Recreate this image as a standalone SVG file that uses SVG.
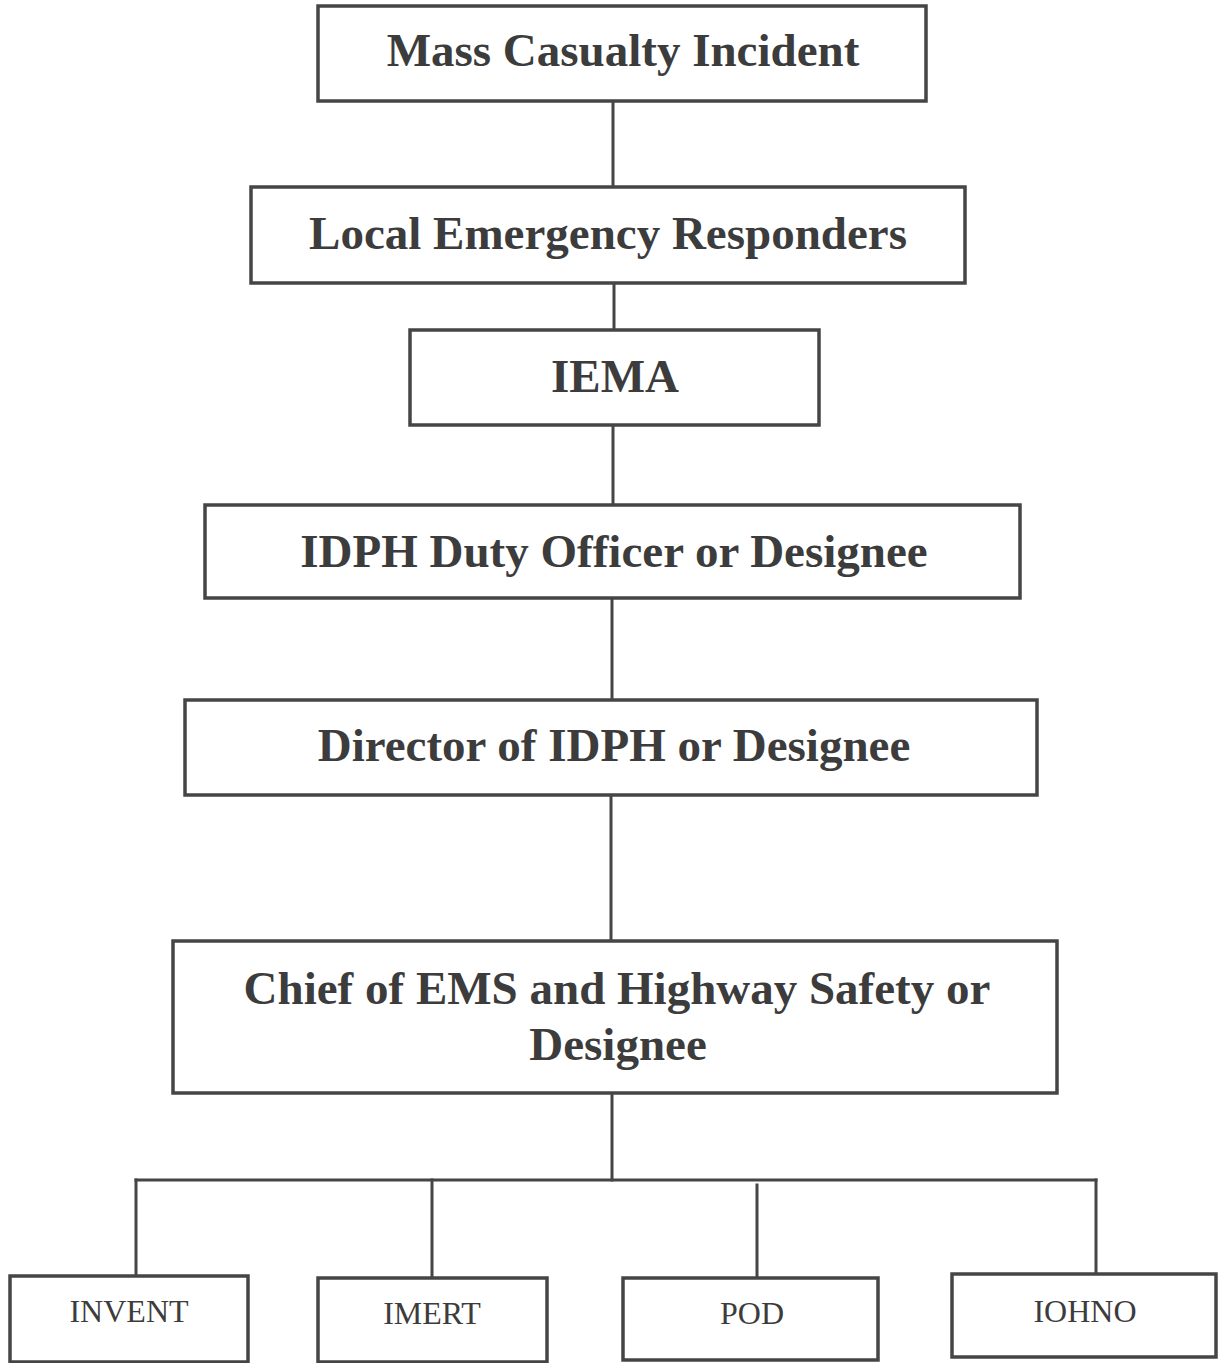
<svg xmlns="http://www.w3.org/2000/svg" width="1218" height="1363" viewBox="0 0 1218 1363">
<style>
.box{fill:#fff;stroke:#454545;stroke-width:3.5}
.conn line{stroke:#454545;stroke-width:3;stroke-linecap:square}
.t{font-family:"Liberation Serif","Times New Roman",serif;font-weight:bold;font-size:47px;fill:#3c3c3c;text-anchor:middle}
.s{font-family:"Liberation Serif","Times New Roman",serif;font-size:32px;fill:#3c3c3c;text-anchor:middle}
</style>
<rect width="1218" height="1363" fill="#fff"/>
<g id="connectors" class="conn">
<line x1="613" y1="101" x2="613" y2="187"/>
<line x1="614" y1="283" x2="614" y2="330"/>
<line x1="613" y1="425" x2="613" y2="505"/>
<line x1="612" y1="598" x2="612" y2="700"/>
<line x1="611" y1="795" x2="611" y2="941"/>
<line x1="612" y1="1093" x2="612" y2="1180"/>
<line x1="136" y1="1180" x2="1096" y2="1180"/>
<line x1="136" y1="1180" x2="136" y2="1276"/>
<line x1="432" y1="1180" x2="432" y2="1278"/>
<line x1="757" y1="1185" x2="757" y2="1278"/>
<line x1="1096" y1="1180" x2="1096" y2="1274"/>
</g>
<g id="n1"><rect class="box" x="318" y="6" width="608" height="95"/><text class="t" x="623" y="66">Mass Casualty Incident</text></g>
<g id="n2"><rect class="box" x="251" y="187" width="714" height="96"/><text class="t" x="608" y="249">Local Emergency Responders</text></g>
<g id="n3"><rect class="box" x="410" y="330" width="409" height="95"/><text class="t" x="615" y="392">IEMA</text></g>
<g id="n4"><rect class="box" x="205" y="505" width="815" height="93"/><text class="t" x="614" y="567">IDPH Duty Officer or Designee</text></g>
<g id="n5"><rect class="box" x="185" y="700" width="852" height="95"/><text class="t" x="614" y="761">Director of IDPH or Designee</text></g>
<g id="n6"><rect class="box" x="173" y="941" width="884" height="152"/><text class="t" x="617" y="1004">Chief of EMS and Highway Safety or</text><text class="t" x="618" y="1060">Designee</text></g>
<g id="n7"><rect class="box" x="10" y="1276" width="238" height="86"/><text class="s" x="129" y="1322">INVENT</text></g>
<g id="n8"><rect class="box" x="318" y="1278" width="229" height="84"/><text class="s" x="432" y="1324">IMERT</text></g>
<g id="n9"><rect class="box" x="623" y="1278" width="255" height="82"/><text class="s" x="752" y="1324">POD</text></g>
<g id="n10"><rect class="box" x="952" y="1274" width="264" height="83"/><text class="s" x="1085" y="1322">IOHNO</text></g>
</svg>
